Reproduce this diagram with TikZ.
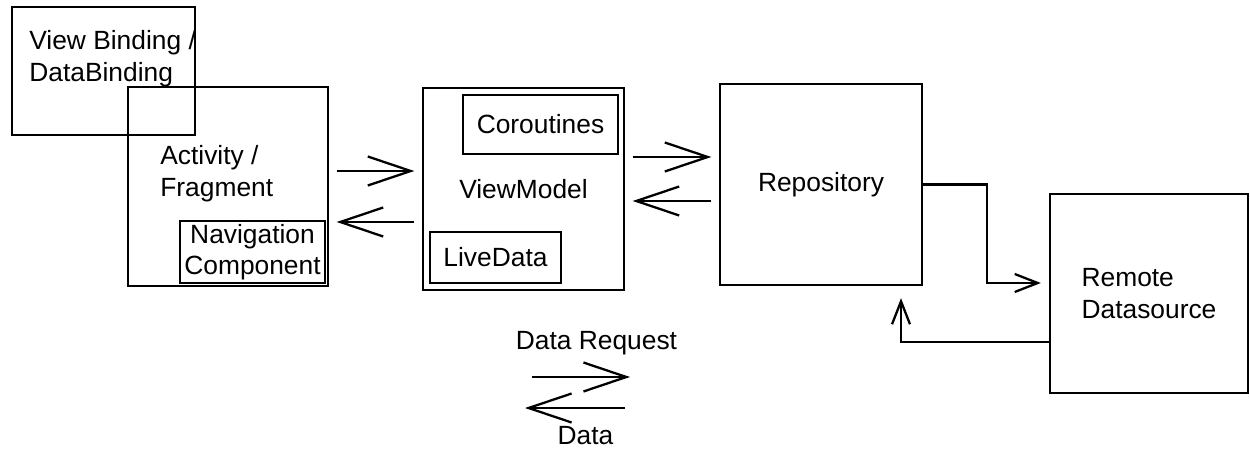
\documentclass[tikz,border=0pt]{standalone}
\usepackage{fontspec}
\setmainfont{Liberation Sans}
\usepackage{tikz}
\usetikzlibrary{arrows.meta,positioning,calc}

\begin{document}
\begin{tikzpicture}[
		font=\fontsize{15}{18}\selectfont,
		box/.style={draw, line width=1.3pt, inner sep=0pt, align=center},
		lbl/.style={inner sep=0pt, align=left},
		link/.style={line width=1.3pt, shorten <=1.5mm, shorten >=1.5mm, -{Straight Barb[length=8.6mm,width=5.8mm]}},
		elbow/.style={line width=1.3pt, -{Straight Barb[length=4.6mm,width=3.6mm]}}
	]
		\useasboundingbox (0,0) rectangle (25,9);

		\node[box, minimum width=3.66cm, minimum height=2.56cm] (vb) at (2.07,7.58) {};
		\node[lbl, anchor=west] (vbtext) at (0.58,7.82) {View Binding /\\DataBinding};

		\node[box, minimum width=4cm, minimum height=3.98cm] (act) at (4.56,5.27) {};
		\node[lbl, anchor=west] (acttext) at (3.2,5.52) {Activity /\\Fragment};
		\node[box, minimum width=2.9cm, minimum height=1.24cm] (nav) at (5.05,3.96) {Navigation\\Component};

		\node[box, minimum width=4.02cm, minimum height=4.04cm] (vm) at (10.47,5.22) {ViewModel};
		\node[box, minimum width=3.1cm, minimum height=1.18cm] (cor) at (10.81,6.51) {Coroutines};
		\node[box, minimum width=2.62cm, minimum height=1.02cm] (live) at (9.91,3.85) {LiveData};

		\node[box, minimum width=4.04cm, minimum height=4.02cm] (repo) at (16.42,5.31) {Repository};
		\node[box, align=left, minimum width=3.96cm, minimum height=3.98cm] (remote) at (22.98,3.13) {Remote\\Datasource};

		\draw[link] (act.east |- 0,5.58) -- (vm.west |- 0,5.58);
		\draw[link] (vm.west |- 0,4.56) -- (act.east |- 0,4.56);
		\draw[link] (vm.east |- 0,5.86) -- (repo.west |- 0,5.86);
		\draw[link] (repo.west |- 0,4.98) -- (vm.east |- 0,4.98);

		\coordinate (bend) at (19.74,3.34);
		\draw[elbow, shorten >=1.6mm] (repo.east) -| (bend) -- (remote.west |- bend);
		\draw[elbow, shorten >=2.4mm] (remote.west |- 0,2.16) -| ([xshift=1.6cm]repo.south);

		\node (req) at (11.93,2.14) {Data Request};
		\node (dat) at (11.71,0.28) {Data};
		\coordinate (reqa) at (10.64,1.46);
		\coordinate (reqb) at (12.6,1.46);
		\coordinate (data) at (12.5,0.84);
		\coordinate (datb) at (10.5,0.84);
		\draw[link, shorten <=0pt, shorten >=0pt] (reqa) -- (reqb);
		\draw[link, shorten <=0pt, shorten >=0pt] (data) -- (datb);
	\end{tikzpicture}
\end{document}
